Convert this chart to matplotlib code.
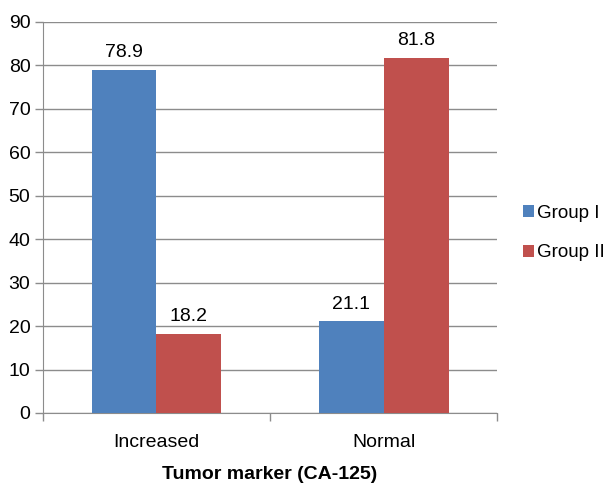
import matplotlib.pyplot as plt
import numpy as np

plt.rcParams['font.family'] = ['Liberation Sans', 'DejaVu Sans']

categories = ["Increased", "Normal"]
group1 = [78.9, 21.1]
group2 = [18.2, 81.8]
series_names = ["Group I", "Group II"]
colors = ["#4F81BD", "#C0504D"]

fs = 14

fig = plt.figure(figsize=(6.13, 4.87), dpi=100)
ax = fig.add_axes([0.070, 0.152, 0.741, 0.803])

x = np.arange(len(categories))
w = 0.286
b1 = ax.bar(x - w / 2, group1, w, color=colors[0], label=series_names[0], zorder=3)
b2 = ax.bar(x + w / 2, group2, w, color=colors[1], label=series_names[1], zorder=3)

for bars, vals in ((b1, group1), (b2, group2)):
    for rect, v in zip(bars, vals):
        ax.text(rect.get_x() + rect.get_width() / 2, v + 2, f"{v:.1f}",
                ha="center", va="bottom", fontsize=fs)

ax.set_xlim(-0.5, len(categories) - 0.5)
ax.set_ylim(0, 90)
ax.set_yticks(range(0, 91, 10))
ax.yaxis.grid(True, color="#8c8c8c", linewidth=1, zorder=0)

ax.set_xticks(x)
ax.set_xticklabels(categories, fontsize=fs)
ax.set_xticks(np.arange(-0.5, len(categories), 1), minor=True)
ax.tick_params(axis="x", which="major", length=0, pad=15)
ax.tick_params(axis="x", which="minor", length=6, color="#8c8c8c", width=1)
ax.tick_params(axis="y", length=6, color="#8c8c8c", width=1, labelsize=fs, pad=3)

for s in ("top", "right"):
    ax.spines[s].set_visible(False)
for s in ("left", "bottom"):
    ax.spines[s].set_color("#8c8c8c")

ax.set_xlabel("Tumor marker (CA-125)", fontsize=fs, fontweight="bold", labelpad=11)

ax.legend(loc="center left", bbox_to_anchor=(1.02, 0.46), frameon=False,
          fontsize=13.5, handlelength=0.6, handleheight=0.6, handletextpad=0.15,
          labelspacing=1.2)

fig.savefig("out.png", dpi=100)
